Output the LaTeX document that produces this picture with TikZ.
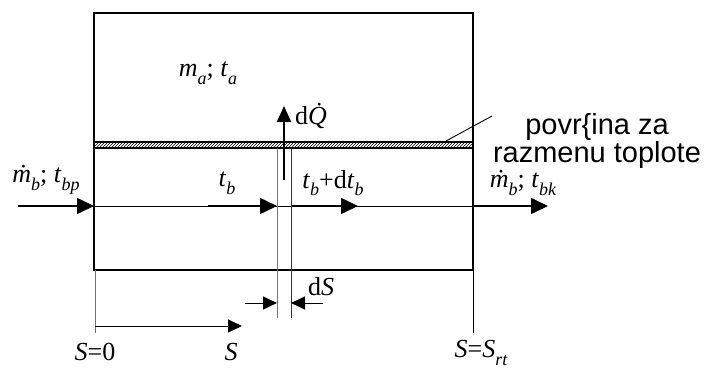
\documentclass[tikz,border=0pt]{standalone}
\usepackage{fontspec}
\setmainfont{Liberation Serif}
\newfontfamily\arialfont{Liberation Sans}
\usetikzlibrary{arrows.meta,patterns}
\newcommand\sbi[1]{\raisebox{-0.3em}{\fontsize{18}{18}\selectfont\itshape #1}}
\newcommand\vi[1]{\textit{#1}}
\begin{document}
\begin{tikzpicture}[x=1pt,y=-1pt,
  lbl/.style={inner sep=0pt,font=\fontsize{26}{30}\selectfont},
  sanslbl/.style={inner sep=0pt,align=center,font=\arialfont\fontsize{29}{27}\selectfont},
  frame/.style={line width=2pt},
  thin/.style={line width=0.9pt},
  greyl/.style={line width=1pt,draw=black!55},
  flowarrow/.style={line width=1.6pt,-{Triangle[length=17pt,width=16pt]}},
  smallarrow/.style={line width=1pt,-{Triangle[length=14pt,width=13pt]}}]
\useasboundingbox (0,0) rectangle (707,367);
% frame
\coordinate (tl) at (94,13);
\coordinate (br) at (473,270);
\draw[frame] (tl) rectangle (br);
% heat exchange strip
\fill[pattern=north east lines] (94,143) rectangle (473,147);
\draw[line width=1.8pt] (94,142) -- (473,142);
\draw[line width=1.4pt] (94,148) -- (473,148);
% flow line
\coordinate (fin) at (18,206);
\coordinate (f0) at (94,206);
\coordinate (fa) at (208,206);
\coordinate (fb) at (277,206);
\coordinate (fc) at (291,206);
\coordinate (fd) at (358,206);
\coordinate (f1) at (473,206);
\coordinate (fout) at (548,206);
\draw[thin] (f0) -- (f1);
\draw[flowarrow] (fin) -- (f0);
\draw[flowarrow] (fa) -- (fb);
\draw[flowarrow] (fc) -- (fd);
\draw[flowarrow] (f1) -- (fout);
% element dS
\coordinate (e1t) at (277,148);
\coordinate (e1b) at (277,318);
\coordinate (e2t) at (291,148);
\coordinate (e2b) at (291,318);
\draw[greyl] (e1t) -- (e1b);
\draw[line width=1pt,draw=black!80] (e2t) -- (e2b);
% dQ
\coordinate (q0) at (284,180);
\coordinate (q1) at (284,106);
\draw[line width=2pt,-{Triangle[length=16pt,width=14pt]}] (q0) -- (q1);
\node[lbl,anchor=west] (dq) at (295,116) {d\vi{\.{Q}}};
% dS arrows
\coordinate (dsl) at (245,303);
\coordinate (dsr) at (323,303);
\coordinate (dsl1) at (277,303);
\coordinate (dsr1) at (291,303);
\draw[smallarrow] (dsl) -- (dsl1);
\draw[smallarrow] (dsr) -- (dsr1);
\node[lbl] (ds) at (321,287) {d\vi{S}};
% S axis
\coordinate (b0t) at (95,270);
\coordinate (b0b) at (95,333);
\coordinate (b1t) at (473,270);
\coordinate (b1b) at (473,333);
\draw[greyl] (b0t) -- (b0b);
\draw[thin] (b1t) -- (b1b);
\coordinate (s0) at (95,326);
\coordinate (s1) at (242,326);
\draw[smallarrow] (s0) -- (s1);
\node[lbl] (S0) at (95,352) {\vi{S}=0};
\node[lbl] (S) at (231,352) {\vi{S}};
\node[lbl] (Srt) at (481,353) {\vi{S}=\vi{S}\sbi{rt}};
% labels
\node[lbl] (ma) at (208,73) {\vi{m}\sbi{a}; \vi{t}\sbi{a}};
\node[lbl] (mbin) at (46,180) {\vi{\.{m}}\sbi{b}; \vi{t}\sbi{bp}};
\node[lbl] (tb) at (227,183) {\vi{t}\sbi{b}};
\node[lbl] (tbdt) at (333,183) {\vi{t}\sbi{b}+d\vi{t}\sbi{b}};
\node[lbl] (mbout) at (523,183) {\vi{\.{m}}\sbi{b}; \vi{t}\sbi{bk}};
% surface label
\node[sanslbl] (surf) at (597,141) {povr\{ina za\\razmenu toplote};
\coordinate (lead0) at (446,141);
\coordinate (lead1) at (492,116);
\draw[thin] (lead0) -- (lead1);
\end{tikzpicture}
\end{document}
